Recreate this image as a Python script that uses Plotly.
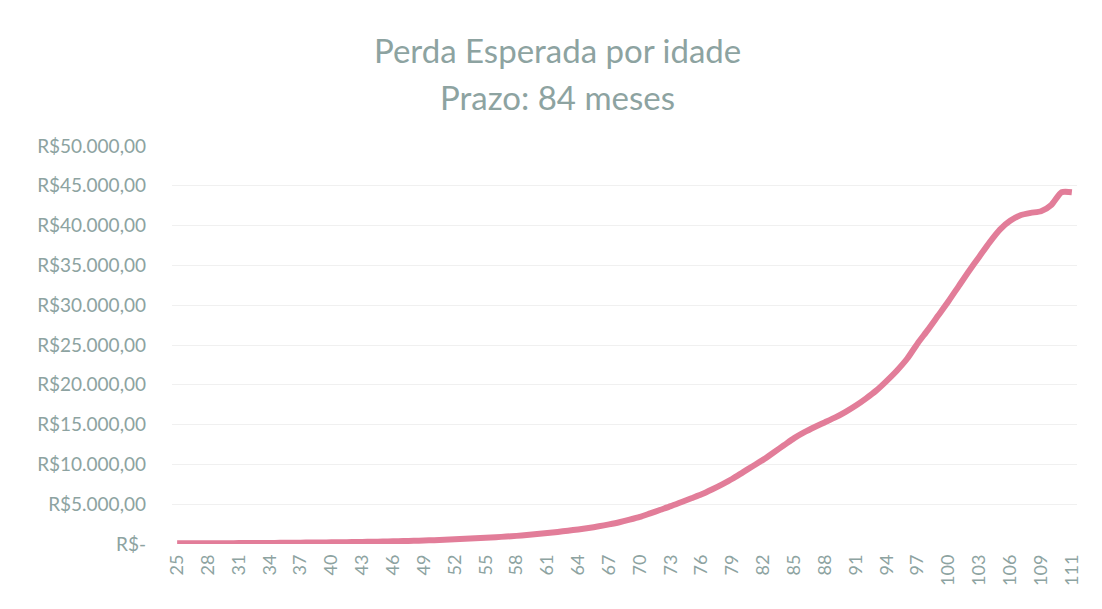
import plotly.graph_objects as go

# Age categories (last labelled category is 111)
ages = [str(a) for a in range(25, 110)] + ["110", "110,5", "111"]

# Expected loss per age (R$)
perda = [
    80, 85, 90, 95, 100, 105, 110, 118, 126, 135,          # 25-34
    145, 156, 168, 181, 195, 210, 225, 242, 262, 285,      # 35-44
    310, 338, 370, 405, 440, 480, 530, 585, 645, 710,      # 45-54
    780, 855, 935, 1020, 1130, 1250, 1380, 1520, 1670, 1830,  # 55-64
    2010, 2220, 2460, 2730, 3050, 3400, 3850, 4300, 4750, 5250,  # 65-74
    5750, 6250, 6850, 7500, 8200, 9000, 9800, 10600, 11500, 12400,  # 75-84
    13300, 14050, 14700, 15300, 15900, 16600, 17400, 18300, 19300, 20500,  # 85-94
    21800, 23300, 25200, 26900, 28700, 30500, 32400, 34300, 36100, 37900,  # 95-104
    39500, 40600, 41300, 41600, 41800,                     # 105-109
    42600, 44200, 44200,
]

y_ticks = [0, 5000, 10000, 15000, 20000, 25000, 30000, 35000, 40000, 45000, 50000]
y_labels = ["R$-", "R$5.000,00", "R$10.000,00", "R$15.000,00", "R$20.000,00",
            "R$25.000,00", "R$30.000,00", "R$35.000,00", "R$40.000,00",
            "R$45.000,00", "R$50.000,00"]

title_line1 = "Perda Esperada por idade"
title_line2 = "Prazo: 84 meses"

x_idx = list(range(len(ages)))
tick_idx = list(range(0, 85, 3)) + [len(ages) - 1]
tick_txt = [ages[i] for i in tick_idx]

text_color = "#8da3a1"
font_family = "Lato, Carlito, Calibri, sans-serif"

# page offset of the figure (body margin) is 8px
L, T = 164, 138
PW, PH = 905, 398.5

fig = go.Figure()
fig.add_trace(go.Scatter(
    x=x_idx, y=perda, mode="lines",
    line=dict(color="#e27d99", width=6, shape="spline", smoothing=0.6),
    hoverinfo="skip", showlegend=False,
))

fig.update_layout(
    width=1102, height=609,
    paper_bgcolor="white", plot_bgcolor="white",
    margin=dict(l=L, r=1102 - L - PW, t=T, b=609 - T - PH),
    font=dict(family=font_family, color=text_color),
    xaxis=dict(
        range=[-0.5, len(ages) - 0.5],
        tickmode="array", tickvals=tick_idx, ticktext=tick_txt,
        tickangle=-90, tickfont=dict(size=18, color=text_color),
        showgrid=False, zeroline=False, showline=False, ticks="",
        ticklabelstandoff=6, automargin=False,
    ),
    yaxis=dict(
        range=[0, 50000],
        tickmode="array", tickvals=y_ticks, ticktext=y_labels,
        tickfont=dict(size=19, color=text_color),
        showgrid=True, gridcolor="#f0f0f0", gridwidth=1,
        zeroline=False, showline=False, ticks="",
        ticklabelstandoff=25, automargin=False,
    ),
    annotations=[
        dict(text=title_line1, xref="paper", yref="paper",
             x=(557 - 8 - L) / PW, y=(T + PH - 42) / PH,
             xanchor="center", yanchor="middle", showarrow=False,
             font=dict(size=33, color=text_color, family=font_family)),
        dict(text=title_line2, xref="paper", yref="paper",
             x=(557 - 8 - L) / PW, y=(T + PH - 89) / PH,
             xanchor="center", yanchor="middle", showarrow=False,
             font=dict(size=33, color=text_color, family=font_family)),
    ],
)

fig.write_html("out.html")
